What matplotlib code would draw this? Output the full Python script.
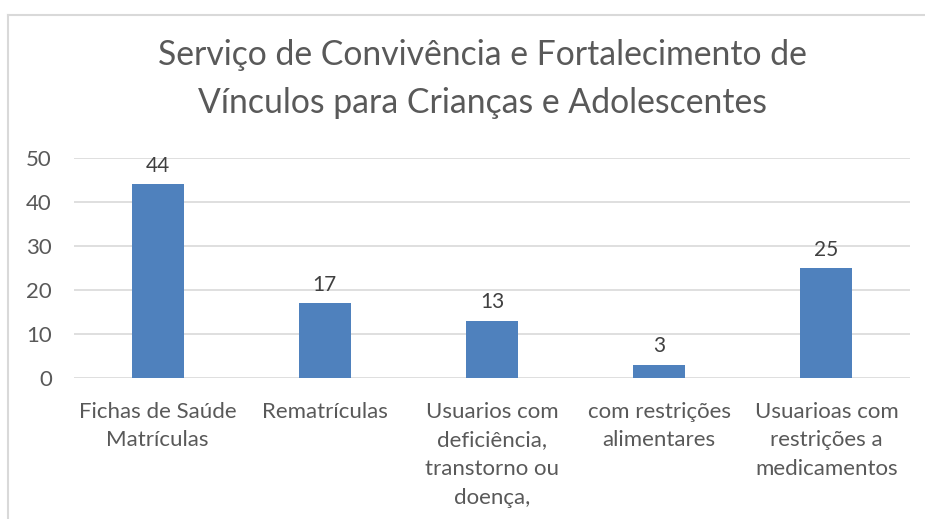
import matplotlib
matplotlib.use("Agg")
import matplotlib.pyplot as plt
from matplotlib.lines import Line2D

title = "Serviço de Convivência e Fortalecimento de\nVínculos para Crianças e Adolescentes"
categories = ["Fichas de Saúde\nMatrículas", "Rematrículas",
              "Usuarios com\ndeficiência,\ntranstorno ou\ndoença,",
              "com restrições\nalimentares",
              "Usuarioas com\nrestrições a\nmedicamentos"]
values = [44, 17, 13, 3, 25]
yticks = [0, 10, 20, 30, 40, 50]

plt.rcParams['font.family'] = ['Lato', 'DejaVu Sans']
W, H = 925, 519
fig = plt.figure(figsize=(W/100, H/100), dpi=100)

# outer chart border (cropped on right and bottom)
bx, by = 7.5/W, 1 - 14.5/H
fig.lines.append(Line2D([bx, 1.0], [by, by], transform=fig.transFigure,
                        color='#D9D9D9', linewidth=1.5))
fig.lines.append(Line2D([bx, bx], [0, by], transform=fig.transFigure,
                        color='#D9D9D9', linewidth=1.5))

left, right = 74/W, 910/W
bottom, top = 1 - 378/H, 1 - 158/H
ax = fig.add_axes([left, bottom, right - left, top - bottom])

x = range(len(categories))
bars = ax.bar(x, values, width=0.31, color='#4F81BD', zorder=3)
ax.set_xlim(-0.5, len(categories) - 0.5)
ax.set_ylim(0, 50)
ax.set_yticks(yticks)
ax.yaxis.grid(True, color='#D9D9D9', linewidth=1.2, zorder=0)
for s in ax.spines.values():
    s.set_visible(False)
ax.tick_params(axis='both', length=0, labelsize=16, colors='#595959')
ax.tick_params(axis='y', pad=16)
ax.set_xticks(list(x))
ax.set_xticklabels(categories, linespacing=1.55, va='top')
ax.tick_params(axis='x', pad=17)
for b, v in zip(bars, values):
    ax.annotate(str(v), (b.get_x() + b.get_width()/2, v), xytext=(0, 6),
                textcoords='offset points', ha='center', va='bottom',
                fontsize=15, color='#404040')

fig.text(482/W, 1 - 79/H, title, ha='center', va='center', fontsize=24.3,
         color='#595959', linespacing=1.6)

fig.savefig('out.png', dpi=100)
